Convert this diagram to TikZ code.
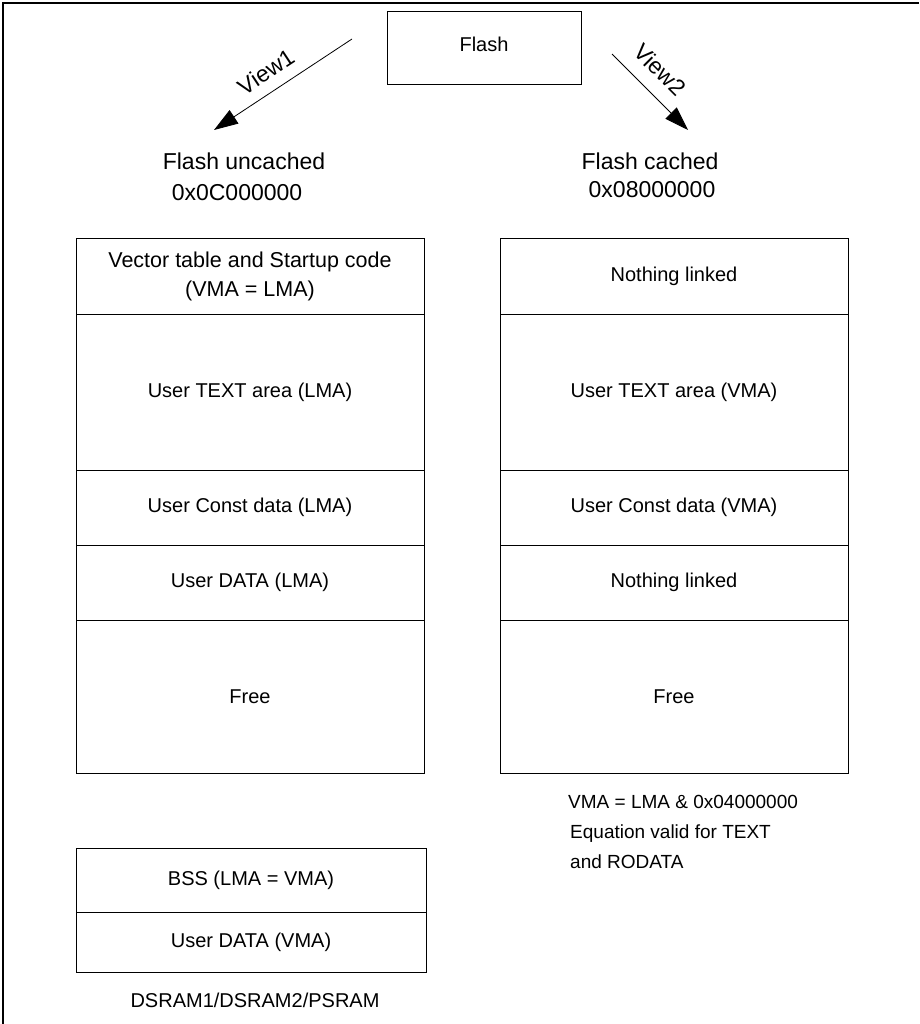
\documentclass[tikz,border=0pt]{standalone}
\usepackage{fontspec}
\setmainfont{Liberation Sans}
\usetikzlibrary{arrows.meta}
\begin{document}
\begin{tikzpicture}[x=1pt,y=-1pt,
  cell/.style={draw=black, line width=1pt, inner sep=0pt, align=center,
    font=\fontsize{20}{29}\selectfont},
  lab/.style={inner sep=0pt, align=center, font=\fontsize{23}{29}\selectfont},
  note/.style={inner sep=0pt, anchor=west, font=\fontsize{19}{30}\selectfont},
  viewlab/.style={inner sep=1pt, sloped, font=\fontsize{23}{26}\selectfont},
  viewarrow/.style={line width=0.8pt, -{Triangle[length=24pt,width=16pt]}},
  frameline/.style={line width=1.8pt, black}]
\useasboundingbox (0,0) rectangle (919,1024);
% outer frame (only left and top visible)
\draw[frameline] (3,1024) -- (3,3) -- (919,3);
% Flash box
\node[cell, minimum width=194pt, minimum height=73pt] (flash) at (484,48.5) {};
\node[inner sep=0pt, font=\fontsize{20}{24}\selectfont] (flashtxt) at (484,44) {Flash};
% arrows
\coordinate (v1s) at (352,39);
\coordinate (v1e) at (214,130);
\coordinate (v2s) at (612,54);
\coordinate (v2e) at (688,130);
\draw[viewarrow] (v1s) -- node[viewlab, above=10pt, pos=0.545] (view1) {View1} (v1e);
\draw[viewarrow] (v2s) -- node[viewlab, above=13pt, pos=0.42] (view2) {View2} (v2e);
% headers
\node[lab] (hl1) at (244,161) {Flash uncached};
\node[lab] (hl2) at (237,193) {0x0C000000};
\node[lab] (hr1) at (650,161) {Flash cached};
\node[lab] (hr2) at (652,190) {0x08000000};
% left column
\node[cell, minimum width=348pt, minimum height=76pt, font=\fontsize{21.5}{29}\selectfont] (l1) at (250,276) {Vector table and Startup code\\(VMA = LMA)};
\node[cell, minimum width=348pt, minimum height=156pt] (l2) at (250,392) {User TEXT area (LMA)};
\node[cell, minimum width=348pt, minimum height=75pt] (l3) at (250,507.5) {User Const data (LMA)};
\node[cell, minimum width=348pt, minimum height=75pt] (l4) at (250,582.5) {User DATA (LMA)};
\node[cell, minimum width=348pt, minimum height=153pt] (l5) at (250,696.5) {Free};
% right column
\node[cell, minimum width=348pt, minimum height=76pt] (r1) at (674,276) {Nothing linked};
\node[cell, minimum width=348pt, minimum height=156pt] (r2) at (674,392) {User TEXT area (VMA)};
\node[cell, minimum width=348pt, minimum height=75pt] (r3) at (674,507.5) {User Const data (VMA)};
\node[cell, minimum width=348pt, minimum height=75pt] (r4) at (674,582.5) {Nothing linked};
\node[cell, minimum width=348pt, minimum height=153pt] (r5) at (674,696.5) {Free};
% notes
\node[note] (eq) at (568,802) {VMA = LMA \& 0x04000000};
\node[note, align=left] (valid) at (570,847) {Equation valid for TEXT\\and RODATA};
% SRAM box
\node[cell, minimum width=350pt, minimum height=64pt] (bss) at (251,880) {BSS (LMA = VMA)};
\node[cell, minimum width=350pt, minimum height=60pt] (ud) at (251,942) {User DATA (VMA)};
\node[lab, font=\fontsize{20}{24}\selectfont] (sram) at (255,1000) {DSRAM1/DSRAM2/PSRAM};
\end{tikzpicture}
\end{document}
